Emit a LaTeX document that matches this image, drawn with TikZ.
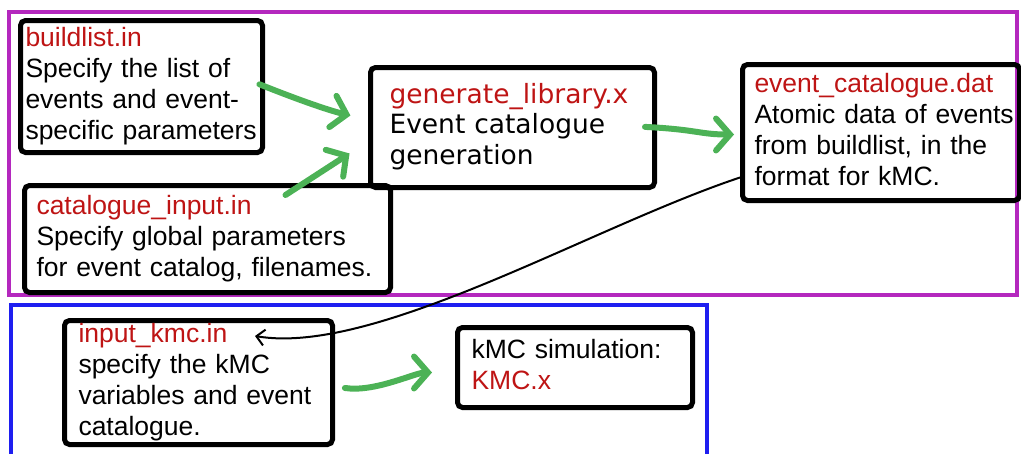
\documentclass[tikz,border=0pt]{standalone}
\usepackage{fontspec}
\setmainfont{Liberation Sans}
\newfontfamily\dejavu{DejaVu Sans}
\usetikzlibrary{arrows.meta}

\definecolor{framepurple}{RGB}{180,40,190}
\definecolor{frameblue}{RGB}{30,30,240}
\definecolor{arrowgreen}{RGB}{76,178,86}
\definecolor{filered}{RGB}{190,20,20}

\tikzset{
  sketchbox/.style={draw, line width=5pt, rounded corners=5pt, anchor=north west,
    align=left, inner ysep=0pt, font=\fontsize{26.5}{31}\selectfont},
  flowarrow/.style={arrowgreen, line width=6pt, line cap=round,
    -{Straight Barb[length=14pt, width=32pt, line cap=round]}},
  linkarrow/.style={black, line width=2pt, -{Straight Barb[length=8pt, width=16pt]}},
}
\newcommand{\fname}[1]{\textcolor{filered}{#1}}
\newcommand{\boxlines}[1]{\begin{tabular}{@{}l@{}}#1\end{tabular}}

\begin{document}
\begin{tikzpicture}[x=1pt, y=-1pt]
\useasboundingbox (0,0) rectangle (1021,453);
% frames
\draw [framepurple, line width=4.5pt] (9,12) rectangle (1017,295);
\draw [frameblue, line width=4.5pt] (11,305) rectangle (707,460);
% boxes of the catalogue step
\node [sketchbox, inner xsep=5pt, text width=232pt, minimum height=132pt] (build) at (18,18)
  {\boxlines{\fname{buildlist.in}\\Specify the list of\\events and event-\\specific parameters}};
\node [sketchbox, inner xsep=12pt, text width=342pt, minimum height=107pt] (cat) at (22,183)
  {\boxlines{\fname{catalogue\_input.in}\\Specify global parameters\\for event catalog, filenames.}};
\node [sketchbox, inner xsep=19pt, text width=246pt, minimum height=120pt,
  font=\dejavu\fontsize{26.5}{30.5}\selectfont] (gen) at (368,65)
  {\boxlines{\fname{generate\_library.x}\\Event catalogue\\generation}};
\node [sketchbox, inner xsep=12pt, text width=253pt, minimum height=136pt] (evt) at (740,62)
  {\boxlines{\fname{event\_catalogue.dat}\\Atomic data of events\\from buildlist, in the\\format for kMC.}};
% boxes of the kMC step
\node [sketchbox, inner xsep=14pt, text width=240pt, minimum height=122pt] (kmcin) at (62,318)
  {\boxlines{\fname{input\_kmc.in}\\specify the kMC\\variables and event\\catalogue.}};
\node [sketchbox, inner xsep=14pt, text width=207pt, minimum height=80pt] (kmcsim) at (455,325)
  {\boxlines{kMC simulation:\\\fname{KMC.x}}};
% arrows
\draw [flowarrow, shorten <=-6pt, shorten >=18pt] (build.east) .. controls +(40pt,-16pt) and +(-35pt,8pt) .. ([yshift=8pt]gen.west);
\draw [flowarrow, shorten >=22pt] ([xshift=78pt, yshift=-12pt]cat.north) -- ([yshift=-14pt]gen.west);
\draw [flowarrow, shorten <=-12pt, shorten >=6pt] (gen.east) .. controls +(40pt,-2pt) and +(-40pt,0pt) .. ([yshift=-2pt]evt.west);
\draw [flowarrow, shorten <=10pt, shorten >=23pt] ([yshift=-4pt]kmcin.east) .. controls +(40pt,-6pt) and +(-40pt,0pt) .. ([yshift=-5pt]kmcsim.west);
\draw [linkarrow] ([yshift=-45pt]evt.west) .. controls +(-150pt,-50pt) and +(120pt,-20pt) .. ([xshift=-80pt, yshift=-18pt]kmcin.north east);
\end{tikzpicture}
\end{document}
